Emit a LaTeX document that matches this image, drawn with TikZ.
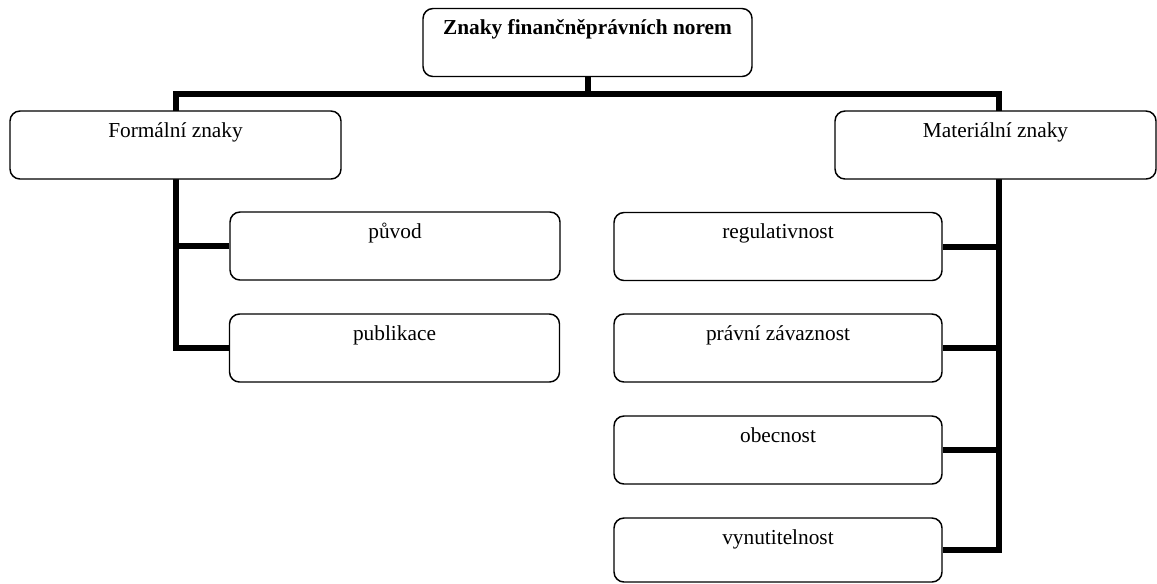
\documentclass[tikz,border=0pt]{standalone}
\usepackage{fontspec}
\setmainfont{Liberation Serif}
\usetikzlibrary{backgrounds}
\begin{document}
\begin{tikzpicture}[x=0.75pt,y=-0.75pt,
  box/.style={draw=black, line width=1.1pt, fill=white, rounded corners=7.5pt,
    inner sep=0pt, text height=19.5pt, text depth=31.5pt, align=center,
    font=\fontsize{16}{19}\selectfont},
  conn/.style={draw=black, line width=4.5pt, line join=miter}]
\useasboundingbox (0,0) rectangle (1157,583);
\node[box, minimum width=246.75pt, font=\fontsize{16}{19}\selectfont\bfseries] (top) at (587.5,42.5) {Znaky finančněprávních norem};
\node[box, minimum width=248.25pt] (formal) at (175.5,145) {Formální znaky};
\node[box, minimum width=240.75pt] (mat) at (995.5,145) {Materiální znaky};
\node[box, minimum width=247.5pt] (puvod) at (395,246) {původ};
\node[box, minimum width=247.5pt] (publ) at (394.5,348) {publikace};
\node[box, minimum width=246pt] (reg) at (778,246.5) {regulativnost};
\node[box, minimum width=246pt] (prav) at (778,348) {právní závaznost};
\node[box, minimum width=246pt] (obec) at (778,450) {obecnost};
\node[box, minimum width=246pt, text depth=28.5pt] (vyn) at (778,550) {vynutitelnost};
\coordinate (barL) at (176,94);
\coordinate (barR) at (999,94);
\begin{scope}[on background layer]
\draw[conn] (top.south) -- (top.south |- barL);
\draw[conn] (publ.west) -| (barL) -- (barR) |- (vyn.east);
\draw[conn] (puvod.west) -- (puvod.west -| barL);
\draw[conn] (reg.east) -- (reg.east -| barR);
\draw[conn] (prav.east) -- (prav.east -| barR);
\draw[conn] (obec.east) -- (obec.east -| barR);
\end{scope}
\end{tikzpicture}
\end{document}
